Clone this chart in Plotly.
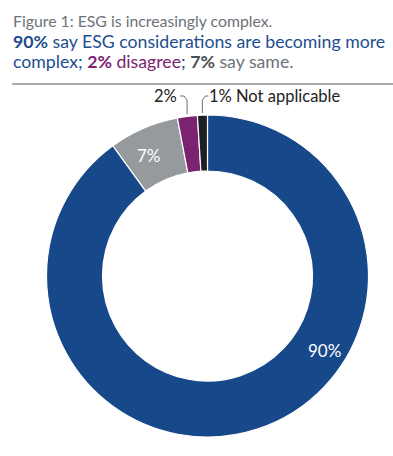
import math
import plotly.graph_objects as go

categories = ["More complex", "Same", "Disagree", "Not applicable"]
values = [90, 7, 2, 1]
labels_text = ["90%", "7%", "2%", "1% Not applicable"]
colors = ["#17488A", "#959A9F", "#7B2270", "#1C1F23"]

W, H = 393, 456
CX, CY, R, RIN = 207.5, 276, 161, 105

def px(x):
    return x / W

def py(y):
    return 1 - y / H

fig = go.Figure(go.Pie(
    labels=categories, values=values, sort=False, direction="clockwise", rotation=0,
    hole=RIN / R, marker=dict(colors=colors, line=dict(color="white", width=1.2)),
    textinfo="none", hoverinfo="label+percent", showlegend=False,
    domain=dict(x=[px(CX - R), px(CX + R)], y=[py(CY + R), py(CY - R)]),
))

total = sum(values)
cum = 0
mids = []
for v in values:
    mids.append((cum + v / 2) / total * 360)
    cum += v

def pos(angle, r):
    a = math.radians(angle)
    return CX + r * math.sin(a), CY - r * math.cos(a)

annotations = []
shapes = []
font = "Lato"

def ann(x, y, text, size, color, xanchor="center", **kw):
    annotations.append(dict(x=px(x), y=py(y), xref="paper", yref="paper", text=text,
                            xanchor=xanchor, yanchor="middle", showarrow=False,
                            font=dict(family=font, size=size, color=color), **kw))

# inside labels
x7, y7 = pos(mids[1] - 2.5, 134)
ann(x7, y7, labels_text[1], 17, "white")
x90, y90 = pos(122.5, 139)
ann(x90, y90, labels_text[0], 17, "white")

# outside labels with leader lines
LY = 96
xp, yp = pos(mids[2], R + 2)
shapes.append(dict(type="path", xref="paper", yref="paper",
                   path=f"M {px(xp)} {py(yp)} L {px(xp)} {py(LY + 4)} L {px(xp - 3)} {py(LY)} L {px(xp - 7)} {py(LY)}",
                   line=dict(color="#6d7278", width=1)))
ann(xp - 8, LY, labels_text[2], 16.5, "#222", xanchor="right")
xb, yb = pos(mids[3], R + 2)
shapes.append(dict(type="path", xref="paper", yref="paper",
                   path=f"M {px(xb)} {py(yb)} L {px(xb)} {py(LY + 4)} L {px(xb + 3)} {py(LY)} L {px(xb + 6)} {py(LY)}",
                   line=dict(color="#6d7278", width=1)))
ann(xb + 5, LY, labels_text[3], 16.5, "#222", xanchor="left")

# titles
blue, purple, gray, dgray = "#1D4E8F", "#7B2270", "#6d7278", "#4a4f55"
ann(11, 20, "Figure 1: ESG is increasingly complex.", 15.8, gray, xanchor="left")
ann(11, 41, "<b>90%</b> say ESG considerations are becoming more", 17.7, blue, xanchor="left")
ann(11, 62, f"complex; <span style='color:{purple}'><b>2%</b> disagree</span>; "
            f"<span style='color:{dgray}'><b>7%</b></span><span style='color:{gray}'> say same.</span>",
    17.7, blue, xanchor="left")
shapes.append(dict(type="line", xref="paper", yref="paper", x0=px(12), x1=1, y0=py(84), y1=py(84),
                   line=dict(color="#555a60", width=1)))

fig.update_layout(width=W, height=H, margin=dict(l=0, r=0, t=0, b=0),
                  paper_bgcolor="white", plot_bgcolor="white",
                  annotations=annotations, shapes=shapes)
fig.write_html("out.html", config={"displayModeBar": False},
               post_script="document.body.style.margin='0';document.body.style.overflow='hidden';")
